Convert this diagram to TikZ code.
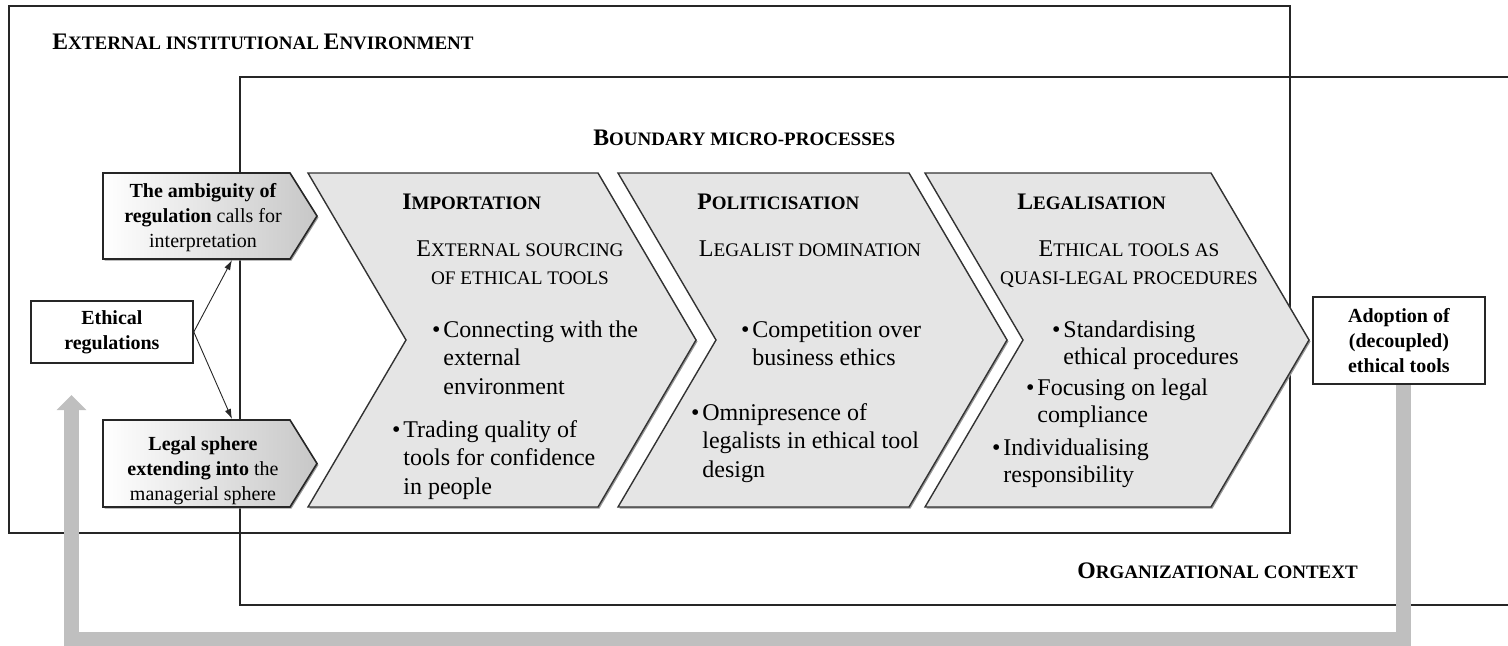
\documentclass[tikz,border=0pt]{standalone}
\usepackage{fontspec}
\setmainfont{Liberation Serif}
\usetikzlibrary{arrows.meta}
\newcommand\hsc[2]{{\bfseries\fontsize{11.85}{13}\selectfont #1\fontsize{9.5}{13}\selectfont #2}}
\newcommand\ssc[2]{{\fontsize{12}{14}\selectfont #1\fontsize{9.6}{14}\selectfont #2}}
\newcommand\bul{\leavevmode\llap{\textbullet\hspace{1.5pt}}}
\tikzset{
  frame/.style={draw=black!85, line width=0.9pt},
  chev/.style={draw=black!80, line width=0.7pt, fill=black!10, line join=miter},
  shad/.style={fill=black!40},
  lbox/.style={draw=black!85, line width=0.8pt, left color=white, right color=black!22},
  wbox/.style={draw=black!85, line width=0.9pt, fill=white, inner sep=0pt, align=center,
               font=\bfseries\fontsize{10}{12.5}\selectfont},
  lbl/.style={anchor=base west, inner sep=0pt},
  sub/.style={anchor=base, inner sep=0pt, font=\fontsize{12}{14}\selectfont},
  body/.style={anchor=base west, inner sep=0pt, font=\fontsize{12}{14.25}\selectfont},
  boxtxt/.style={anchor=base, inner sep=0pt, font=\fontsize{10}{12.5}\selectfont},
  conn/.style={-{Latex[length=5pt,width=3.2pt]}, line width=0.45pt, draw=black!85},
  feedback/.style={line width=7.5pt, draw=black!25, -{Triangle[width=14.5pt,length=7.5pt]}}
}
\begin{document}
\begin{tikzpicture}[x=0.5pt,y=-0.5pt]
\useasboundingbox (0,0) rectangle (1508,645);
% environments
\draw[frame] (9,6) rectangle (1290,533);
\draw[draw=black!85, line width=0.75pt] (1508,77) -- (240,77) -- (240,605) -- (1508,605);
% feedback arrow
\coordinate (fbs) at (1403,385);
\coordinate (fbc1) at (1403,639.5);
\coordinate (fbc2) at (71.5,639.5);
\coordinate (fbe) at (71.5,395);
\draw[feedback] (fbs) -- (fbc1) -- (fbc2) -- (fbe);
% chevrons
\foreach \a/\b in {308/598, 618/909, 925/1211}{
  \fill[shad, shift={(1.5,1.5)}] (\a,173) -- (\b,173) -- (\b+98,340) -- (\b,507) -- (\a,507) -- (\a+98,340) -- cycle;
  \path[chev] (\a,173) -- (\b,173) -- (\b+98,340) -- (\b,507) -- (\a,507) -- (\a+98,340) -- cycle;
}
% left boxes
\foreach \t/\m/\bt in {173/216/259, 420/463.5/507}{
  \fill[shad, shift={(1.5,1.5)}] (103,\t) -- (290,\t) -- (317,\m) -- (290,\bt) -- (103,\bt) -- cycle;
  \path[lbox] (103,\t) -- (290,\t) -- (317,\m) -- (290,\bt) -- (103,\bt) -- cycle;
}
\coordinate (ambb) at (232,260);
\coordinate (legt) at (232,419);
% white boxes
\node[wbox, anchor=north west, minimum width=81pt, minimum height=31pt] (eth) at (30,300) {Ethical\\regulations};
\node[wbox, anchor=north west, minimum width=86pt, minimum height=43.5pt] (adopt) at (1312,296) {Adoption of\\(decoupled)\\ethical tools};
\draw[conn] (eth.east) -- (ambb);
\draw[conn] (eth.east) -- (legt);
% titles
\node[lbl] (ttl) at (52,49) {\hsc{E}{XTERNAL INSTITUTIONAL }\hsc{E}{NVIRONMENT}};
\node[lbl] (bmp) at (593,145) {\hsc{B}{OUNDARY MICRO-PROCESSES}};
\node[lbl] (org) at (1077,578) {\hsc{O}{RGANIZATIONAL CONTEXT}};
% left box texts
\node[boxtxt] (ambt) at (203,197) {\parbox[t]{110pt}{\centering\textbf{The ambiguity of}\\\textbf{regulation} calls for\\interpretation}};
\node[boxtxt] (legtx) at (203,450) {\parbox[t]{110pt}{\centering\textbf{Legal sphere}\\\textbf{extending into} the\\managerial sphere}};
% Importation
\node[lbl] (h1) at (402,209) {\hsc{I}{MPORTATION}};
\node[sub] (s1) at (520,256) {\parbox[t]{130pt}{\centering\ssc{E}{XTERNAL SOURCING}\\\ssc{}{OF ETHICAL TOOLS}}};
\node[body] (b11) at (443,337) {\parbox[t]{120pt}{\raggedright\bul Connecting with the\\external\\environment}};
\node[body] (b12) at (403,437) {\parbox[t]{120pt}{\raggedright\bul Trading quality of\\tools for confidence\\in people}};
% Politicisation
\node[lbl] (h2) at (697,209) {\hsc{P}{OLITICISATION}};
\node[sub] (s2) at (810,256) {\ssc{L}{EGALIST DOMINATION}};
\node[body] (b21) at (752,337) {\parbox[t]{120pt}{\raggedright\bul Competition over\\business ethics}};
\node[body] (b22) at (702,420) {\parbox[t]{130pt}{\raggedright\bul Omnipresence of\\legalists in ethical tool\\design}};
% Legalisation
\node[lbl] (h3) at (1017,209) {\hsc{L}{EGALISATION}};
\node[sub] (s3) at (1129,256) {\parbox[t]{150pt}{\centering\ssc{E}{THICAL TOOLS AS}\\\ssc{}{QUASI-LEGAL PROCEDURES}}};
\node[body, font=\fontsize{12}{13.5}\selectfont] (b31) at (1063,337) {\parbox[t]{120pt}{\raggedright\bul Standardising\\ethical procedures}};
\node[body, font=\fontsize{12}{13.5}\selectfont] (b32) at (1037,395) {\parbox[t]{120pt}{\raggedright\bul Focusing on legal\\compliance}};
\node[body, font=\fontsize{12}{13.5}\selectfont] (b33) at (1003,455) {\parbox[t]{120pt}{\raggedright\bul Individualising\\responsibility}};
\end{tikzpicture}
\end{document}
